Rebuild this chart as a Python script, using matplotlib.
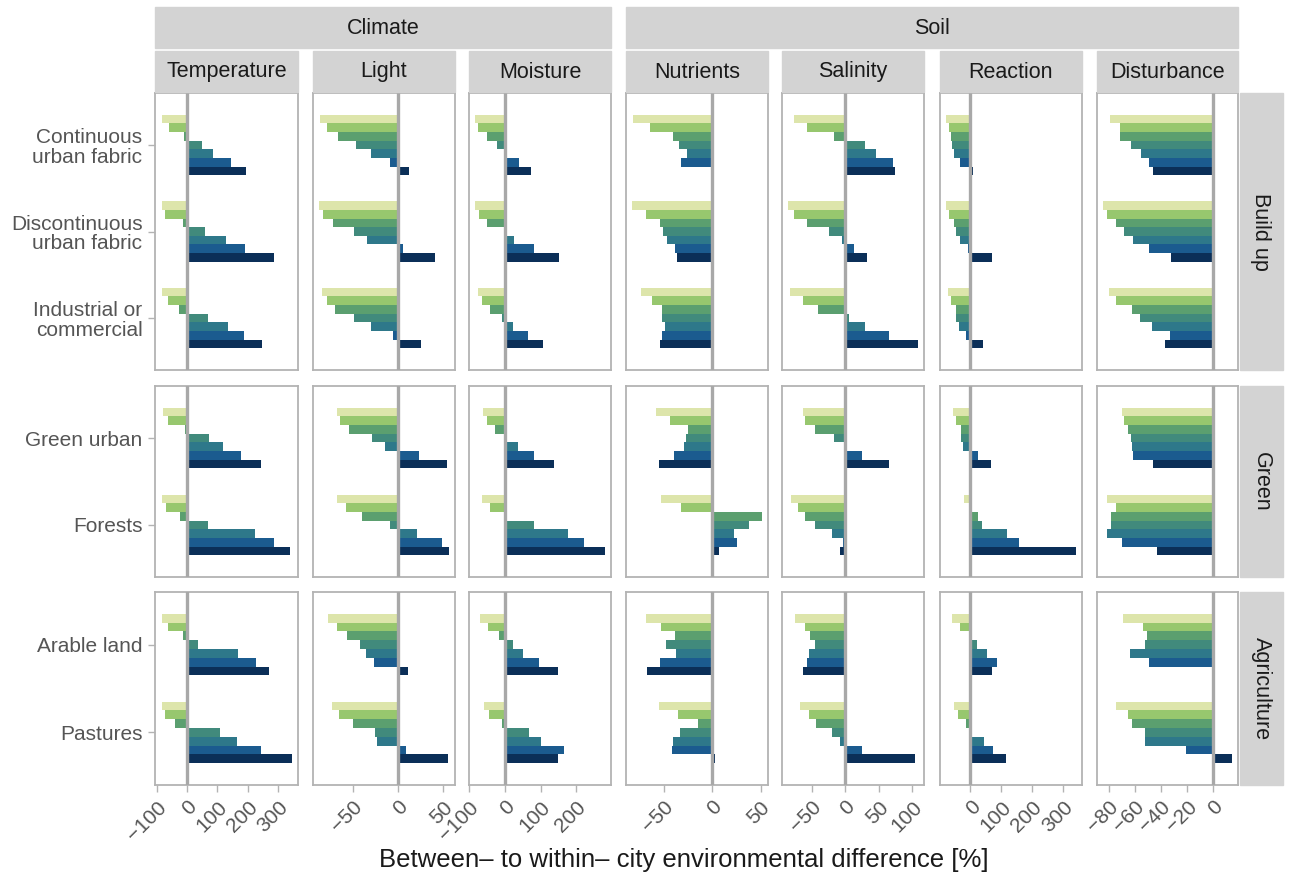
import matplotlib
matplotlib.use("Agg")
import matplotlib.pyplot as plt
from matplotlib.patches import Rectangle

plt.rcParams['font.family'] = ['Liberation Sans', 'DejaVu Sans']

# --- Données ---
variables = ["Temperature", "Light", "Moisture", "Nutrients", "Salinity", "Reaction", "Disturbance"]
groupes_var = [("Climate", 0, 2), ("Soil", 3, 6)]
groupes_occ = ["Build up", "Green", "Agriculture"]
categories = {
    "Build up": ["Continuous\nurban fabric", "Discontinuous\nurban fabric", "Industrial or\ncommercial"],
    "Green": ["Green urban", "Forests"],
    "Agriculture": ["Arable land", "Pastures"],
}
couleurs = ["#dde5ab", "#97c76e", "#5b9f6f", "#418a7c", "#2e788a", "#1b5b8f", "#0b2f58"]

ticks_x = {
    "Temperature": [-100, 0, 100, 200, 300],
    "Light": [-50, 0, 50],
    "Moisture": [-100, 0, 100, 200],
    "Nutrients": [-50, 0, 50],
    "Salinity": [-50, 0, 50, 100],
    "Reaction": [0, 100, 200, 300],
    "Disturbance": [-80, -60, -40, -20, 0],
}

# valeurs [%] : 7 classes par catégorie
temperature = {
    "Continuous\nurban fabric": [-81, -58, -11, 49, 85, 145, 195],
    "Discontinuous\nurban fabric": [-84, -71, -14, 59, 128, 192, 288],
    "Industrial or\ncommercial": [-81, -64, -28, 69, 135, 188, 248],
    "Green urban": [-78, -61, -8, 72, 119, 178, 245],
    "Forests": [-81, -68, -24, 69, 225, 285, 338],
    "Arable land": [-84, -64, -14, 35, 168, 228, 271],
    "Pastures": [-84, -71, -38, 109, 165, 245, 344],
}
light = {
    "Continuous\nurban fabric": [-86, -79, -67, -47, -30, -9, 12],
    "Discontinuous\nurban fabric": [-87, -83, -72, -49, -34, 5, 41],
    "Industrial or\ncommercial": [-84, -79, -70, -49, -30, -5, 26],
    "Green urban": [-68, -64, -54, -29, -14, 23, 54],
    "Forests": [-68, -58, -40, -9, 21, 49, 56],
    "Arable land": [-77, -68, -56, -42, -35, -27, 11],
    "Pastures": [-73, -65, -50, -26, -23, 9, 55],
}
moisture = {
    "Continuous\nurban fabric": [-82, -74, -49, -21, 6, 41, 72],
    "Discontinuous\nurban fabric": [-82, -71, -49, -1, 27, 83, 153],
    "Industrial or\ncommercial": [-74, -63, -40, -9, 24, 66, 106],
    "Green urban": [-60, -49, -26, 0, 36, 83, 139],
    "Forests": [-63, -40, 0, 83, 176, 221, 279],
    "Arable land": [-68, -46, -15, 24, 52, 97, 150],
    "Pastures": [-57, -43, -9, 69, 100, 165, 150],
}
nutrients = {
    "Continuous\nurban fabric": [-81, -64, -40, -34, -26, -32, 0],
    "Discontinuous\nurban fabric": [-82, -68, -54, -51, -46, -38, -36],
    "Industrial or\ncommercial": [-73, -62, -52, -52, -48, -52, -54],
    "Green urban": [-58, -43, -25, -27, -29, -39, -55],
    "Forests": [-53, -32, 51, 38, 23, 26, 7],
    "Arable land": [-68, -53, -38, -47, -37, -54, -67],
    "Pastures": [-55, -35, -14, -33, -40, -41, 3],
}
salinity = {
    "Continuous\nurban fabric": [-76, -57, -17, 29, 46, 72, 75],
    "Discontinuous\nurban fabric": [-85, -76, -57, -24, -5, 13, 32],
    "Industrial or\ncommercial": [-82, -64, -41, 5, 29, 66, 108],
    "Green urban": [-63, -60, -45, -17, 0, 25, 65],
    "Forests": [-81, -70, -60, -45, -20, -3, -8],
    "Arable land": [-75, -61, -53, -45, -54, -57, -63],
    "Pastures": [-67, -55, -44, -20, -8, 25, 104],
}
reaction = {
    "Continuous\nurban fabric": [-77, -68, -61, -58, -52, -32, 10],
    "Discontinuous\nurban fabric": [-77, -68, -52, -45, -32, -6, 71],
    "Industrial or\ncommercial": [-71, -61, -45, -45, -36, -13, 42],
    "Green urban": [-55, -45, -29, -29, -23, 26, 65],
    "Forests": [-19, 0, 26, 36, 119, 158, 339],
    "Arable land": [-58, -32, 0, 23, 55, 87, 71],
    "Pastures": [-52, -39, -13, 0, 45, 74, 116],
}
disturbance = {
    "Continuous\nurban fabric": [-79, -71, -71, -63, -55, -49, -46],
    "Discontinuous\nurban fabric": [-84, -81, -74, -68, -61, -49, -32],
    "Industrial or\ncommercial": [-80, -74, -62, -56, -47, -33, -37],
    "Green urban": [-70, -68, -65, -63, -62, -61, -46],
    "Forests": [-81, -74, -78, -78, -81, -70, -43],
    "Arable land": [-69, -54, -51, -52, -64, -49, 0],
    "Pastures": [-74, -65, -62, -52, -52, -21, 14],
}
valeurs = {
    "Temperature": temperature, "Light": light, "Moisture": moisture,
    "Nutrients": nutrients, "Salinity": salinity, "Reaction": reaction,
    "Disturbance": disturbance,
}

# --- Mise en page (pixels) ---
W, H = 1290, 881
col_x = [(155, 298), (313, 455), (469, 611), (626, 768), (782, 924), (940, 1082), (1097, 1238)]
row_y = [(93, 370), (386, 577), (592, 785)]
gris_bord = "#b3b3b3"
gris_strip = "#d3d3d3"
gris_texte = "#555555"


def rect(x0, y0, x1, y1):
    return [x0 / W, 1 - y1 / H, (x1 - x0) / W, (y1 - y0) / H]


fig = plt.figure(figsize=(W / 100, H / 100), dpi=100)

largeur = 0.7
n_cl = len(couleurs)
h_bar = largeur / n_cl

for j, var in enumerate(variables):
    toutes = [v for cat in valeurs[var].values() for v in cat] + [0]
    lo, hi = min(toutes), max(toutes)
    pad = 0.05 * (hi - lo)
    for i, occ in enumerate(groupes_occ):
        cats = categories[occ]
        ax = fig.add_axes(rect(col_x[j][0], row_y[i][0], col_x[j][1], row_y[i][1]))
        for k, cat in enumerate(cats):
            for c in range(n_cl):
                y = k - largeur / 2 + h_bar * (c + 0.5)
                ax.barh(y, valeurs[var][cat][c], height=h_bar, color=couleurs[c], linewidth=0)
        ax.axvline(0, color="#a8a8a8", lw=2.4, zorder=3)
        ax.set_xlim(lo - pad, hi + pad)
        ax.set_ylim(len(cats) - 1 + 0.6, -0.6)
        for s in ax.spines.values():
            s.set_color(gris_bord)
            s.set_linewidth(1.3)
        ax.tick_params(colors=gris_bord, length=5, width=1, pad=4,
                       labelcolor=gris_texte, labelsize=15)
        ax.set_yticks(range(len(cats)))
        if j == 0:
            ax.set_yticklabels(cats, ha="right", multialignment="right", linespacing=1.05)
        else:
            ax.tick_params(axis="y", length=0)
            ax.set_yticklabels([])
        ax.set_xticks(ticks_x[var])
        if i == len(groupes_occ) - 1:
            ax.set_xticklabels([str(t).replace("-", "\u2212") for t in ticks_x[var]],
                               rotation=45, ha="right", rotation_mode="anchor")
        else:
            ax.tick_params(axis="x", length=0)
            ax.set_xticklabels([])

# bandeaux des variables
for j, var in enumerate(variables):
    x0, x1 = col_x[j]
    fig.patches.append(Rectangle((x0 / W, 1 - 92 / H), (x1 - x0) / W, 41 / H,
                                 transform=fig.transFigure, color=gris_strip, zorder=0))
    fig.text((x0 + x1) / 2 / W, 1 - 72 / H, var, ha="center", va="center",
             fontsize=15.5, color="#1a1a1a")

# bandeaux Climate / Soil
for nom, a, b in groupes_var:
    x0, x1 = col_x[a][0], col_x[b][1]
    fig.patches.append(Rectangle((x0 / W, 1 - 48 / H), (x1 - x0) / W, 41 / H,
                                 transform=fig.transFigure, color=gris_strip, zorder=0))
    fig.text((x0 + x1) / 2 / W, 1 - 29 / H, nom, ha="center", va="center",
             fontsize=15.5, color="#1a1a1a")

# bandeaux des types d'occupation
for i, occ in enumerate(groupes_occ):
    y0, y1 = row_y[i]
    fig.patches.append(Rectangle((1240 / W, 1 - y1 / H), 43 / W, (y1 - y0) / H,
                                 transform=fig.transFigure, color=gris_strip, zorder=0))
    fig.text(1261 / W, 1 - (y0 + y1) / 2 / H, occ, ha="center", va="center",
             rotation=-90, fontsize=15.5, color="#1a1a1a")

fig.text(684 / W, 1 - 860 / H,
         "Between\u2013 to within\u2013 city environmental difference [%]",
         ha="center", va="center", fontsize=18.5, color="#1a1a1a")

fig.savefig("out.png", dpi=100, facecolor="white")
